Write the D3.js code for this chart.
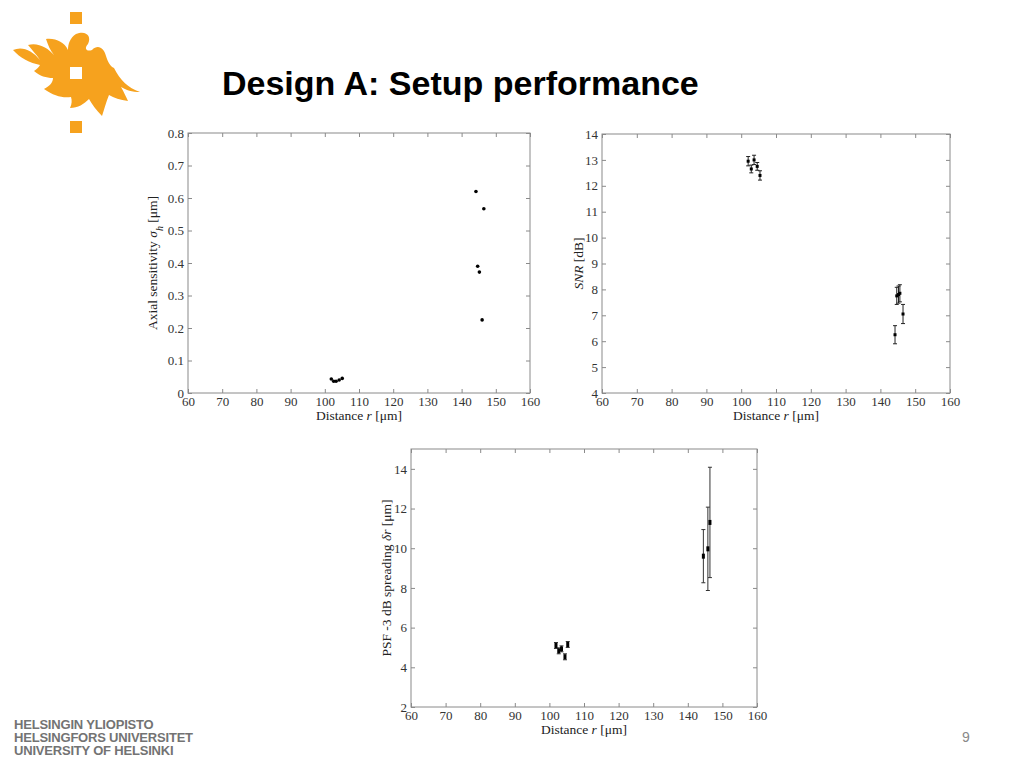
<!DOCTYPE html>
<html><head><meta charset="utf-8">
<script src="https://cdn.jsdelivr.net/npm/d3@7"></script>
<style>
body{margin:0;background:#fff;}
svg{display:block;}
.tick text{font-family:"Liberation Serif","Times New Roman",serif;font-size:13px;fill:#333;}
.tick line{stroke:#8a8a8a;}
</style></head>
<body>
<svg id="c" width="1024" height="768"></svg>
<script>
// ---------- data ----------
const xTicks = [60,70,80,90,100,110,120,130,140,150,160];

const axialDist = [101.9, 102.6, 103.3, 104.2, 105.1, 144.2, 146.5, 144.7, 145.2, 146.0];
const axialSens = [0.043, 0.036, 0.036, 0.040, 0.045, 0.620, 0.567, 0.390, 0.372, 0.225];
const axialTicks = [0,0.1,0.2,0.3,0.4,0.5,0.6,0.7,0.8];

const snrDist = [102.0, 102.9, 103.7, 104.6, 105.4, 144.2, 144.7, 145.2, 145.6, 146.5];
const snrVal  = [12.95, 12.65, 13.0, 12.75, 12.4, 6.25, 7.75, 7.8, 7.85, 7.05];
const snrErr  = [0.18, 0.15, 0.18, 0.15, 0.18, 0.35, 0.33, 0.33, 0.33, 0.37];
const snrTicks = [4,5,6,7,8,9,10,11,12,13,14];

const psfDist = [101.9, 102.7, 103.5, 104.5, 105.3, 144.5, 145.8, 146.4];
const psfVal  = [5.10, 4.83, 4.93, 4.53, 5.15, 9.60, 9.97, 11.30];
const psfErr  = [0.15, 0.15, 0.15, 0.15, 0.15, 1.34, 2.10, 2.78];
const psfTicks = [2,4,6,8,10,12,14];

const universityLines = ["HELSINGIN YLIOPISTO","HELSINGFORS UNIVERSITET","UNIVERSITY OF HELSINKI"];

// ---------- page ----------
const svg = d3.select("#c");
const orange = "#f6a21e";

// logo
const logo = svg.append("g");
logo.append("rect").attr("x",70).attr("y",12).attr("width",12).attr("height",12).attr("fill",orange);
logo.append("rect").attr("x",70).attr("y",121).attr("width",12).attr("height",12).attr("fill",orange);
logo.append("path").attr("fill",orange).attr("d",
 "M13,50 C22,46 32,50 40,60 C36,54 32,50 28,45 C38,42 48,48 54,55 C50,50 48,45 46,39 " +
 "C56,38 64,42 68,50 C68,44 70,38 76,34 C86,30 92,36 88,44 C84,48 86,52 92,50 C98,44 104,48 106,56 " +
 "C108,62 110,66 114,68 C120,80 128,88 140,92 C132,92 126,90 121,87 C124,92 126,97 128,101 " +
 "C120,100 114,98 109,95 C106,102 104,110 102,116 C96,110 92,104 89,99 C84,104 78,108 70,108 " +
 "C72,104 72,100 71,97 C62,98 54,96 44,89 C50,86 53,82 53,78 C46,78 40,76 34,71 " +
 "C37,69 39,67 40,65 C30,63 20,58 13,50 Z");
logo.append("rect").attr("x",70).attr("y",67).attr("width",12).attr("height",12).attr("fill","#fff");

svg.append("text").attr("x",222).attr("y",95)
  .attr("font-family","Liberation Sans, Arial, sans-serif").attr("font-weight","bold")
  .attr("font-size",34).attr("fill","#000").text("Design A: Setup performance");

svg.append("g").selectAll("text").data(universityLines).join("text")
  .attr("x",14).attr("y",(d,i)=>729+i*13)
  .attr("font-family","Liberation Sans, Arial, sans-serif").attr("font-weight","bold")
  .attr("font-size",13).attr("fill","#737373").attr("letter-spacing",-0.2).text(d=>d);

svg.append("text").attr("x",966).attr("y",742).attr("text-anchor","middle")
  .attr("font-family","Liberation Sans, Arial, sans-serif").attr("font-size",14)
  .attr("fill","#888").text("9");

// ---------- panels ----------
function panel(o){
  const g = svg.append("g");
  const x = d3.scaleLinear().domain([60,160]).range([o.x0,o.x1]);
  const y = d3.scaleLinear().domain(o.yDomain).range([o.y1,o.y0]);
  g.append("rect").attr("x",o.x0).attr("y",o.y0).attr("width",o.x1-o.x0).attr("height",o.y1-o.y0)
    .attr("fill","#fff").attr("stroke","#8a8a8a").attr("stroke-width",1);
  const fmt = o.fmt || (d=>d);
  g.append("g").attr("transform",`translate(0,${o.y1})`)
    .call(d3.axisBottom(x).tickValues(xTicks).tickSizeInner(-4).tickSizeOuter(0).tickPadding(4))
    .call(a=>a.select(".domain").remove());
  g.append("g").attr("transform",`translate(0,${o.y0})`)
    .call(d3.axisTop(x).tickValues(xTicks).tickSizeInner(-4).tickSizeOuter(0).tickFormat(""))
    .call(a=>a.select(".domain").remove());
  g.append("g").attr("transform",`translate(${o.x0},0)`)
    .call(d3.axisLeft(y).tickValues(o.yTicks).tickSizeInner(-4).tickSizeOuter(0).tickPadding(4).tickFormat(fmt))
    .call(a=>a.select(".domain").remove());
  g.append("g").attr("transform",`translate(${o.x1},0)`)
    .call(d3.axisRight(y).tickValues(o.yTicks).tickSizeInner(-4).tickSizeOuter(0).tickFormat(""))
    .call(a=>a.select(".domain").remove());
  // x label
  const xl = g.append("text").attr("x",(o.x0+o.x1)/2).attr("y",o.y1+27).attr("text-anchor","middle")
    .attr("font-family","Liberation Serif, Times New Roman, serif").attr("font-size",13.5).attr("fill","#222");
  xl.append("tspan").text("Distance ");
  xl.append("tspan").attr("font-style","italic").text("r");
  xl.append("tspan").text(" [μm]");
  // y label
  const yl = g.append("text").attr("transform",`translate(${o.ylx},${(o.y0+o.y1)/2}) rotate(-90)`)
    .attr("text-anchor","middle")
    .attr("font-family","Liberation Serif, Times New Roman, serif").attr("font-size",13.5).attr("fill","#222");
  o.ylabel.forEach(p=>{
    const t = yl.append("tspan").text(p.t);
    if(p.i) t.attr("font-style","italic");
    if(p.sub) t.attr("baseline-shift","sub").attr("font-size",10);
  });
  return {g,x,y};
}

// panel 1: axial sensitivity
{
  const p = panel({x0:188,x1:530,y0:133,y1:393,yDomain:[0,0.8],yTicks:axialTicks,
    fmt:d=>d===0?"0":d3.format(".1f")(d), ylx:157,
    ylabel:[{t:"Axial sensitivity "},{t:"σ",i:true},{t:"h",i:true,sub:true},{t:" [μm]"}]});
  p.g.append("g").selectAll("circle").data(axialDist).join("circle")
    .attr("cx",d=>p.x(d)).attr("cy",(d,i)=>p.y(axialSens[i])).attr("r",1.8).attr("fill","#000");
}

// panel 2: SNR
{
  const p = panel({x0:602,x1:950,y0:134,y1:393,yDomain:[4,14],yTicks:snrTicks, ylx:583,
    ylabel:[{t:"SNR",i:true},{t:" [dB]"}]});
  const eg = p.g.append("g").attr("stroke","#222").attr("stroke-width",1);
  snrDist.forEach((d,i)=>{
    const cx = p.x(d), yt = p.y(snrVal[i]+snrErr[i]), yb = p.y(snrVal[i]-snrErr[i]);
    eg.append("line").attr("x1",cx).attr("x2",cx).attr("y1",yt).attr("y2",yb);
    eg.append("line").attr("x1",cx-2).attr("x2",cx+2).attr("y1",yt).attr("y2",yt);
    eg.append("line").attr("x1",cx-2).attr("x2",cx+2).attr("y1",yb).attr("y2",yb);
  });
  p.g.append("g").selectAll("rect").data(snrDist).join("rect")
    .attr("x",d=>p.x(d)-1.5).attr("y",(d,i)=>p.y(snrVal[i])-1.5).attr("width",3).attr("height",3).attr("fill","#000");
}

// panel 3: PSF
{
  const p = panel({x0:411,x1:757,y0:449,y1:707,yDomain:[2,15],yTicks:psfTicks, ylx:391,
    ylabel:[{t:"PSF -3 dB spreading "},{t:"δr",i:true},{t:" [μm]"}]});
  const eg = p.g.append("g").attr("stroke","#333").attr("stroke-width",1);
  psfDist.forEach((d,i)=>{
    const cx = p.x(d), yt = p.y(psfVal[i]+psfErr[i]), yb = p.y(psfVal[i]-psfErr[i]);
    eg.append("line").attr("x1",cx).attr("x2",cx).attr("y1",yt).attr("y2",yb);
    eg.append("line").attr("x1",cx-2).attr("x2",cx+2).attr("y1",yt).attr("y2",yt);
    eg.append("line").attr("x1",cx-2).attr("x2",cx+2).attr("y1",yb).attr("y2",yb);
  });
  p.g.append("g").selectAll("rect").data(psfDist).join("rect")
    .attr("x",d=>p.x(d)-1.5).attr("y",(d,i)=>p.y(psfVal[i])-2.5).attr("width",3).attr("height",5).attr("fill","#000");
}
</script>
</body></html>
